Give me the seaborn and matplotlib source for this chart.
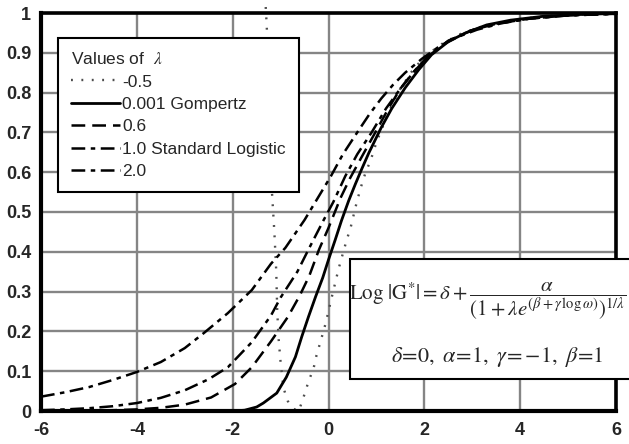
import numpy as np
import pandas as pd
import matplotlib
matplotlib.use("Agg")
import matplotlib.pyplot as plt
import seaborn as sns
from matplotlib.patches import Rectangle

# ---- data ----
legend_labels = ["-0.5", "0.001 Gompertz", "0.6", "1.0 Standard Logistic", "2.0"]

lam_m05_x = [-1.31, -1.29, -1.28, -1.24, -1.19, -1.17, -1.15, -1.13, -1.11, -1.09, -1.08, -1.07,
             -1.04, -1.0, -0.94, -0.85, -0.75, -0.68, -0.62, -0.52, -0.42, -0.31, -0.25, -0.17,
             -0.06, 0.07, 0.21, 0.38, 0.46, 0.58, 0.67, 0.77, 0.88, 1.0, 1.25, 1.5, 1.75, 2.0,
             2.4, 2.8, 3.3, 3.8, 4.5, 5.2, 6.0]
lam_m05_y = [1.015, 0.97, 0.94, 0.75, 0.57, 0.53, 0.49, 0.45, 0.40, 0.35, 0.30, 0.25,
             0.18, 0.123, 0.058, 0.025, 0.008, 0.002, 0.0, 0.035, 0.073, 0.108, 0.14, 0.173,
             0.22, 0.287, 0.357, 0.43, 0.46, 0.52, 0.56, 0.598, 0.63, 0.675, 0.75, 0.81, 0.855, 0.89,
             0.925, 0.95, 0.97, 0.982, 0.992, 0.996, 0.999]

lam_0001_x = [-6, -2.5, -2.0, -1.75, -1.5, -1.36, -1.08, -0.88, -0.69, -0.56, -0.42, -0.27, -0.12,
              0.0, 0.14, 0.27, 0.42, 0.56, 0.69, 0.84, 1.1, 1.32, 1.6, 1.88, 2.15, 2.5, 2.86,
              3.3, 3.8, 4.5, 5.2, 6.0]
lam_0001_y = [0, 0, 0, 0.002, 0.01, 0.02, 0.045, 0.085, 0.136, 0.186, 0.236, 0.287, 0.335,
              0.38, 0.43, 0.478, 0.528, 0.57, 0.607, 0.648, 0.712, 0.76, 0.812, 0.857, 0.895, 0.928, 0.95,
              0.97, 0.982, 0.992, 0.996, 0.999]

lam_06_x = [-6, -5, -4.5, -4, -3.5, -3, -2.45, -1.95, -1.6, -1.2, -0.85, -0.6, -0.4, -0.2, 0.0,
            0.25, 0.45, 0.7, 1.0, 1.25, 1.5, 1.8, 2.1, 2.5, 3.0, 3.5, 4.2, 5.0, 6.0]
lam_06_y = [0.0, 0.001, 0.002, 0.004, 0.008, 0.016, 0.034, 0.068, 0.11, 0.175, 0.236, 0.29, 0.34, 0.405, 0.46,
            0.535, 0.585, 0.64, 0.705, 0.76, 0.81, 0.855, 0.893, 0.93, 0.957, 0.973, 0.986, 0.994, 0.998]

lam_1_x = [-6, -5.5, -5, -4.5, -4, -3.5, -3, -2.5, -2.1, -1.6, -1.2, -1.0, -0.65, -0.4, -0.1, 0.1,
           0.35, 0.6, 0.9, 1.2, 1.5, 1.8, 2.1, 2.5, 3.0, 3.5, 4.2, 5.0, 6.0]
lam_1_y = [0.002, 0.004, 0.007, 0.012, 0.02, 0.033, 0.052, 0.08, 0.11, 0.173, 0.24, 0.285, 0.35, 0.41, 0.48, 0.525,
           0.59, 0.645, 0.70, 0.76, 0.81, 0.855, 0.895, 0.93, 0.957, 0.973, 0.986, 0.994, 0.998]

lam_2_x = [-6, -5.5, -5, -4.5, -4, -3.5, -3, -2.6, -2.1, -1.6, -1.2, -0.9, -0.5, -0.2, 0.05, 0.3,
           0.6, 0.85, 1.1, 1.35, 1.6, 1.95, 2.3, 2.7, 3.1, 3.6, 4.2, 5.0, 6.0]
lam_2_y = [0.036, 0.047, 0.06, 0.078, 0.098, 0.123, 0.158, 0.196, 0.246, 0.304, 0.37, 0.41, 0.48, 0.54, 0.59, 0.645,
           0.70, 0.745, 0.785, 0.82, 0.85, 0.885, 0.915, 0.94, 0.958, 0.974, 0.986, 0.994, 0.998]

x_ticks = [-6, -4, -2, 0, 2, 4, 6]
y_ticks = [0, 0.1, 0.2, 0.3, 0.4, 0.5, 0.6, 0.7, 0.8, 0.9, 1]
y_tick_labels = ["0", "0.1", "0.2", "0.3", "0.4", "0.5", "0.6", "0.7", "0.8", "0.9", "1"]

# ---- figure ----
sns.set_style("white")
plt.rcParams["font.family"] = ["Liberation Sans", "DejaVu Sans"]
plt.rcParams["mathtext.fontset"] = "stix"

fig = plt.figure(figsize=(6.29, 4.44), dpi=100)
ax = fig.add_axes([41 / 629, 1 - 411 / 444, (616 - 41) / 629, (411 - 13) / 444])

series = [
    (lam_m05_x, lam_m05_y, dict(color="#4d4d4d", lw=1.7, linestyle=(0, (0.8, 3.6)), clip_on=False)),
    (lam_0001_x, lam_0001_y, dict(color="black", lw=2.0, linestyle="-")),
    (lam_06_x, lam_06_y, dict(color="black", lw=1.8, linestyle=(0, (5.5, 2.8)))),
    (lam_1_x, lam_1_y, dict(color="black", lw=1.8, linestyle=(0, (5.5, 2.2, 1.8, 2.2)))),
    (lam_2_x, lam_2_y, dict(color="black", lw=1.8, linestyle=(0, (5.5, 2.2, 1.8, 2.2)))),
]
for (xs, ys, kw), lab in zip(series, legend_labels):
    df = pd.DataFrame({"x": xs, "y": ys})
    sns.lineplot(data=df, x="x", y="y", ax=ax, sort=False, estimator=None,
                 label=lab, zorder=3, **kw)

ax.set_xlim(-6, 6)
ax.set_ylim(0, 1)
ax.set_xticks(x_ticks)
ax.set_xticklabels([str(t) for t in x_ticks])
ax.set_yticks(y_ticks)
ax.set_yticklabels(y_tick_labels)
ax.set_xlabel("")
ax.set_ylabel("")
ax.grid(True, color="#858585", lw=1.7, zorder=0)
ax.set_axisbelow(True)
ax.tick_params(length=0, labelsize=13)
ax.tick_params(axis="y", pad=7)
ax.tick_params(axis="x", pad=8)
for lbl in ax.get_xticklabels() + ax.get_yticklabels():
    lbl.set_fontweight("bold")
for side in ["left", "bottom"]:
    ax.spines[side].set_linewidth(3.0)
for side in ["top", "right"]:
    ax.spines[side].set_linewidth(2.6)
for sp in ax.spines.values():
    sp.set_color("black")
    sp.set_zorder(4)

handles = ax.get_lines()[:5]
leg = ax.legend(handles=handles, labels=legend_labels, title=r"Values of  $\lambda$",
                loc="upper left", bbox_to_anchor=(0.0296, 0.937), borderaxespad=0,
                fontsize=12.5, title_fontsize=12.5, handlelength=2.8, handletextpad=0.15,
                labelspacing=0.42, borderpad=0.75, frameon=True, fancybox=False,
                framealpha=1, edgecolor="black", alignment="left")
leg.get_frame().set_linewidth(1.5)
leg.set_zorder(6)

# equation box
rect = Rectangle((350 / 629, 1 - 379 / 444), 0.6, 120 / 444, transform=fig.transFigure,
                 facecolor="white", edgecolor="black", lw=1.5, zorder=5, clip_on=False)
fig.add_artist(rect)
fig.text(349 / 629, 1 - 301 / 444,
         r"$\mathrm{Log}\ |\mathrm{G}^{*}| = \delta + \dfrac{\alpha}{(1+\lambda e^{(\beta+\gamma\,\log\omega)})^{1/\lambda}}$",
         fontsize=15, ha="left", va="center", zorder=7)
fig.text(497 / 629, 1 - 357 / 444, r"$\delta\!=\!0,\ \alpha\!=\!1,\ \gamma\!=-1,\ \beta\!=\!1$",
         fontsize=16, ha="center", va="center", zorder=7)

fig.savefig("out.png", dpi=100)
